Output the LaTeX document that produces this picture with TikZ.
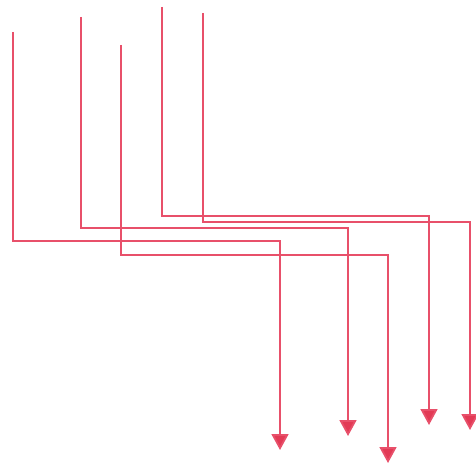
\documentclass[tikz,border=0pt]{standalone}
\usetikzlibrary{arrows.meta}
\definecolor{wire}{HTML}{E8506A}
\definecolor{tipc}{HTML}{E23A55}
\tikzset{wireline/.style={draw=wire,line width=1.8pt,-{Triangle[width=17pt,length=16pt,fill=tipc]}}}
\begin{document}
\begin{tikzpicture}[x=1pt,y=-1pt]
\useasboundingbox (0,0) rectangle (476,465);
% start points
\coordinate (a0) at (13,32);
\coordinate (b0) at (81,17);
\coordinate (c0) at (121,45);
\coordinate (d0) at (162,7);
\coordinate (e0) at (203,13);
% end points
\coordinate (a1) at (280,450);
\coordinate (b1) at (348,436);
\coordinate (c1) at (388,463);
\coordinate (d1) at (429,425);
\coordinate (e1) at (470,430);
\draw[wireline] (a0) |- (280,241) -- (a1);
\draw[wireline] (b0) |- (348,228) -- (b1);
\draw[wireline] (c0) |- (388,255) -- (c1);
\draw[wireline] (d0) |- (429,216) -- (d1);
\draw[wireline] (e0) |- (470,222) -- (e1);
\end{tikzpicture}
\end{document}
